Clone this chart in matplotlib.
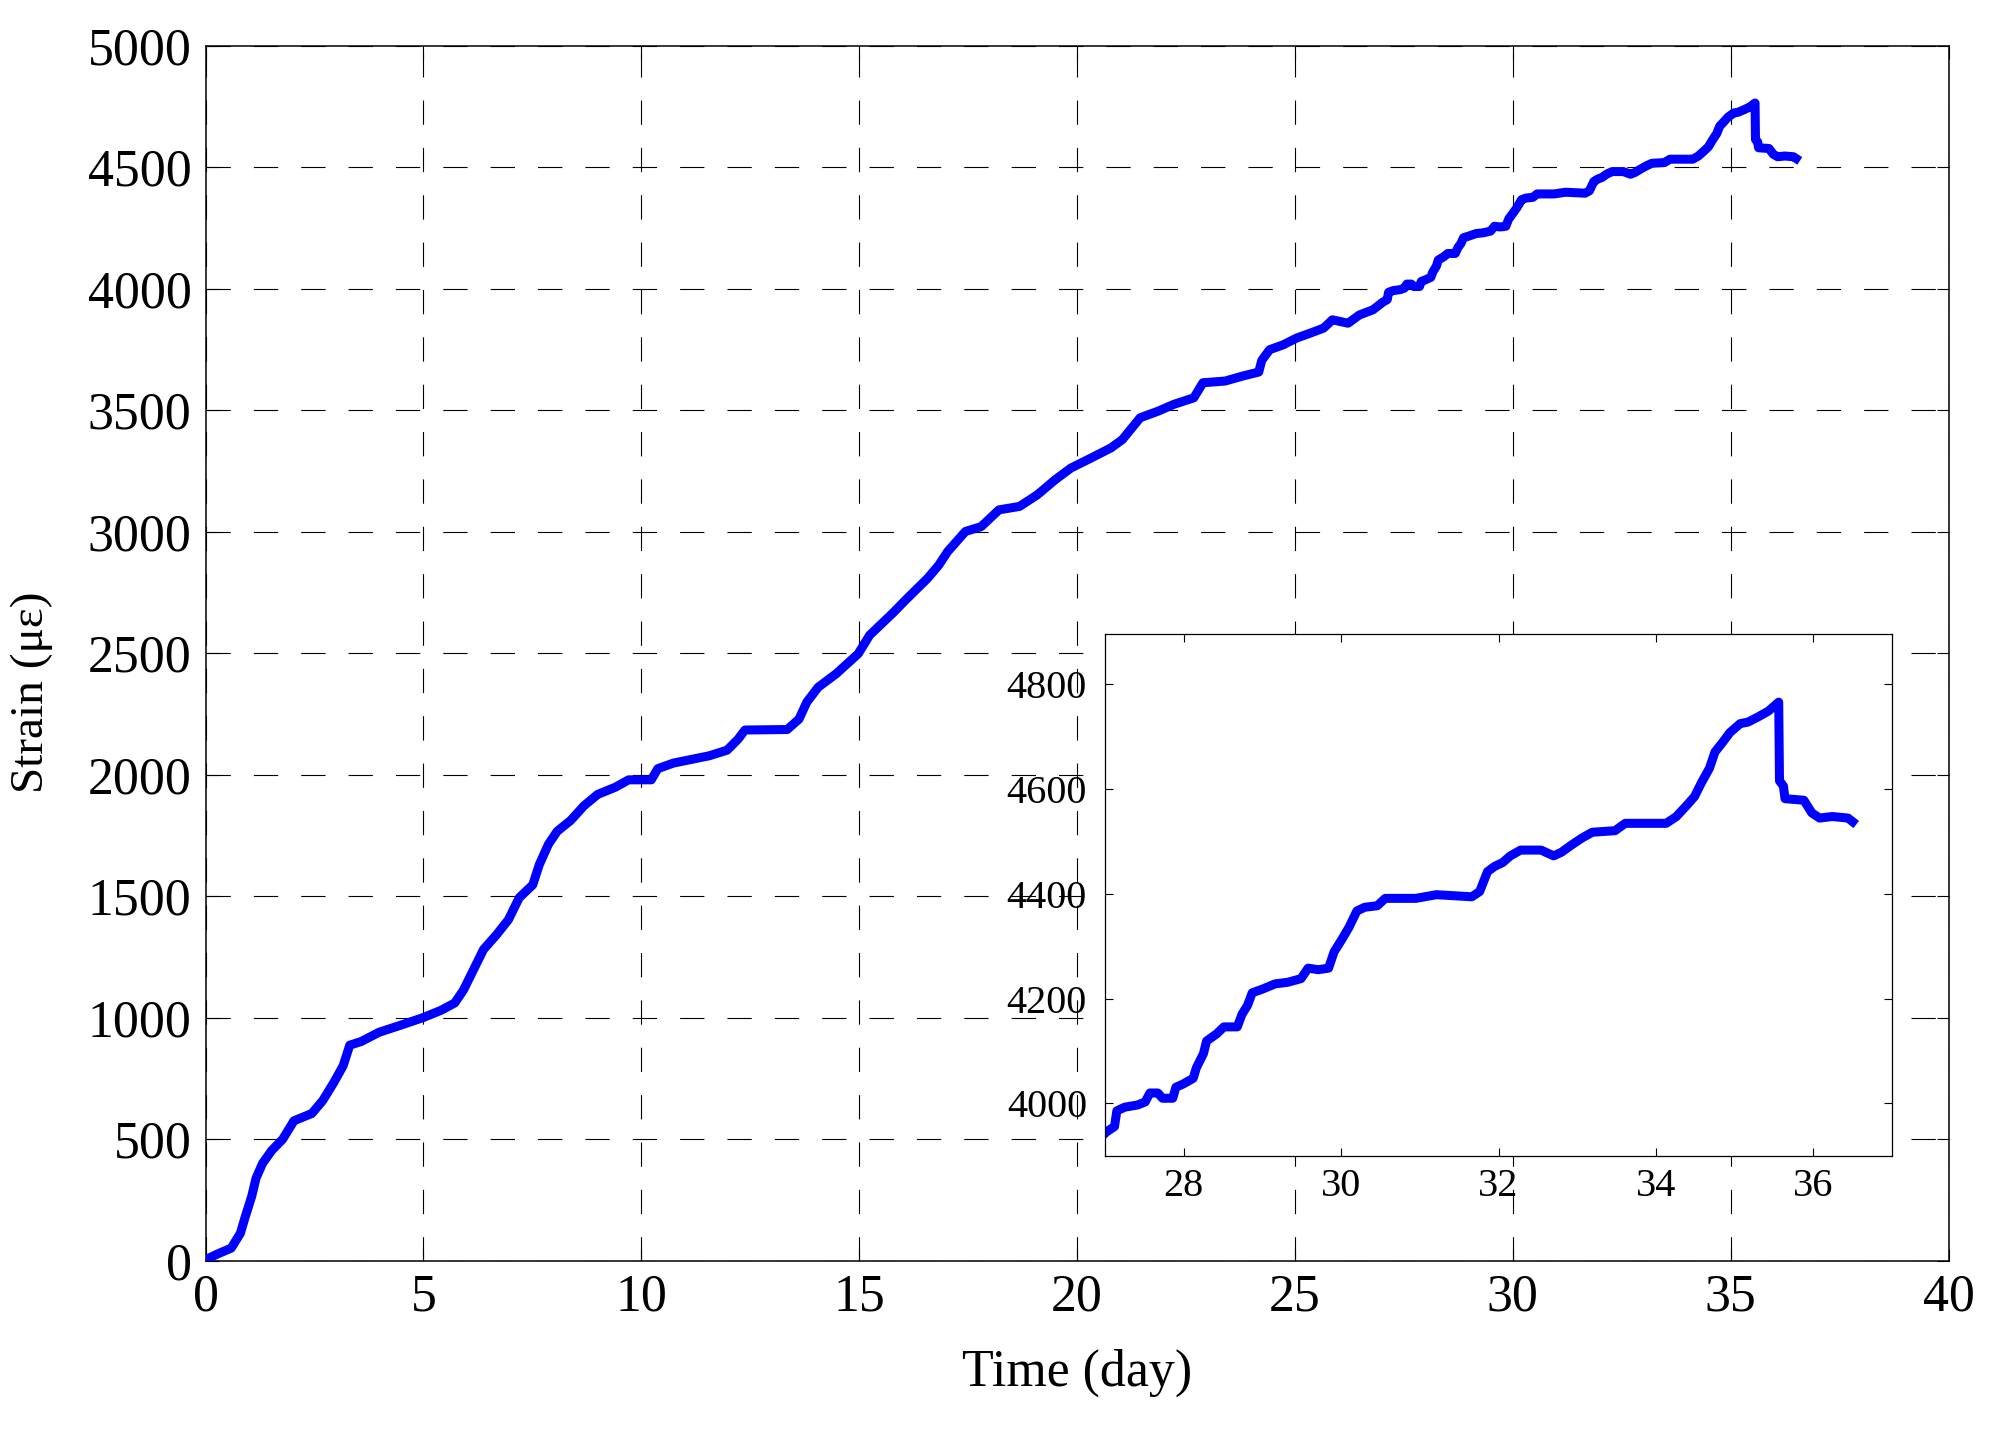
import matplotlib
matplotlib.use("Agg")
import matplotlib.pyplot as plt

plt.rcParams['font.family'] = ['Liberation Serif', 'DejaVu Serif']
plt.rcParams['lines.scale_dashes'] = False

# Time (day) and strain (micro-strain)
time_day = [0.03, 0.29, 0.59, 0.80, 0.90, 1.06, 1.16, 1.31, 1.52, 1.77,
            2.03, 2.44, 2.69, 2.95, 3.16, 3.31, 3.57, 3.98, 4.49, 5.00,
            5.41, 5.72, 5.92, 6.13, 6.38, 6.68, 6.95, 7.20, 7.51, 7.66,
            7.87, 8.07, 8.38, 8.69, 9.00, 9.41, 9.71, 10.23, 10.38, 10.74,
            11.15, 11.56, 11.97, 12.22, 12.38, 13.35, 13.62, 13.80, 14.06, 14.47,
            14.98, 15.24, 15.80, 16.06, 16.57, 16.83, 17.03, 17.44, 17.80, 18.21,
            18.68, 19.09, 19.50, 19.86, 20.32, 20.78, 21.04, 21.45, 21.86, 22.22,
            22.68, 22.89, 23.40, 23.81, 24.17, 24.24, 24.42, 24.73, 25.04, 25.35,
            25.66, 25.86, 26.22, 26.48, 26.79,
            27.02, 27.12, 27.15, 27.25, 27.41, 27.51, 27.57, 27.67, 27.73, 27.86,
            27.90, 27.99, 28.12, 28.16, 28.25, 28.29, 28.42, 28.51, 28.68, 28.74,
            28.81, 28.87, 29.00, 29.16, 29.32, 29.49, 29.58, 29.71, 29.84, 29.91,
            30.01, 30.10, 30.20, 30.30, 30.46, 30.56, 30.95, 31.21, 31.66, 31.76,
            31.86, 31.95, 32.05, 32.15, 32.28, 32.54, 32.70, 32.80, 32.93, 33.06,
            33.19, 33.48, 33.61, 34.13, 34.26, 34.39, 34.49, 34.58, 34.68, 34.75,
            34.84, 34.94, 35.07, 35.17, 35.30, 35.43, 35.56, 35.57, 35.62, 35.64,
            35.88, 35.98, 36.08, 36.24, 36.44, 36.50]
strain = [8, 30, 53, 114, 175, 266, 341, 402, 455, 501,
          577, 607, 660, 736, 804, 888, 903, 941, 971, 1002,
          1032, 1062, 1115, 1191, 1282, 1343, 1404, 1495, 1548, 1631,
          1715, 1768, 1813, 1874, 1920, 1950, 1980, 1980, 2026, 2049,
          2064, 2079, 2102, 2147, 2185, 2187, 2230, 2300, 2361, 2416,
          2499, 2575, 2671, 2719, 2809, 2864, 2919, 3002, 3022, 3091,
          3105, 3153, 3215, 3263, 3304, 3346, 3380, 3470, 3497, 3525,
          3552, 3614, 3621, 3642, 3658, 3706, 3750, 3770, 3798, 3818,
          3839, 3873, 3859, 3893, 3914,
          3946, 3956, 3986, 3993, 3997, 4003, 4020, 4020, 4010, 4010,
          4031, 4037, 4048, 4068, 4095, 4119, 4133, 4146, 4146, 4170,
          4187, 4211, 4218, 4228, 4231, 4238, 4258, 4255, 4258, 4289,
          4313, 4336, 4367, 4374, 4377, 4391, 4391, 4398, 4394, 4404,
          4442, 4452, 4459, 4472, 4483, 4483, 4472, 4479, 4493, 4506,
          4517, 4520, 4534, 4534, 4547, 4568, 4585, 4612, 4639, 4670,
          4687, 4707, 4724, 4727, 4737, 4748, 4765, 4615, 4605, 4581,
          4578, 4554, 4544, 4547, 4544, 4537]

main_xticks = [0, 5, 10, 15, 20, 25, 30, 35, 40]
main_yticks = [0, 500, 1000, 1500, 2000, 2500, 3000, 3500, 4000, 4500, 5000]
inset_xticks = [28, 30, 32, 34, 36]
inset_yticks = [4000, 4200, 4400, 4600, 4800]

BIG = 37.4
SMALL = 29

fig = plt.figure(figsize=(20.03, 14.31), dpi=100)
ax = fig.add_axes([0.1026, 0.1188, 0.8702, 0.8491])
ax.plot(time_day, strain, color='#0000FF', lw=6.5, solid_joinstyle='round', zorder=3)
ax.set_xlim(0, 40)
ax.set_ylim(0, 5000)
ax.set_xticks(main_xticks)
ax.set_yticks(main_yticks)
ax.grid(True, color='black', lw=0.8, linestyle=(0, (17.5, 16.6)))
ax.tick_params(direction='in', length=9, width=0.8, top=True, right=True,
               labelsize=BIG, colors='black')
ax.tick_params(axis='x', pad=9)
ax.tick_params(axis='y', pad=10)
for s in ax.spines.values():
    s.set_linewidth(1.1)
ax.set_xlabel('Time (day)', fontsize=BIG, va='baseline')
ax.xaxis.set_label_coords(0.5, -0.103)
ax.set_ylabel('Strain (\u03bc\u03b5)', fontsize=34, va='center')
ax.yaxis.set_label_coords(-0.0995, 0.468)

ins = fig.add_axes([0.5517, 0.1922, 0.3929, 0.3648])
ins.plot(time_day, strain, color='#0000FF', lw=6.5, solid_joinstyle='round')
ins.set_xlim(27, 37)
ins.set_ylim(3900, 4895)
ins.set_xticks(inset_xticks)
ins.set_yticks(inset_yticks)
ins.tick_params(direction='in', length=6, width=0.8, top=True, right=True,
                labelsize=SMALL, colors='black')
ins.tick_params(axis='x', pad=8.5)
ins.tick_params(axis='y', pad=13)
for s in ins.spines.values():
    s.set_linewidth(0.9)

fig.savefig('out.png', dpi=100, facecolor='white')
